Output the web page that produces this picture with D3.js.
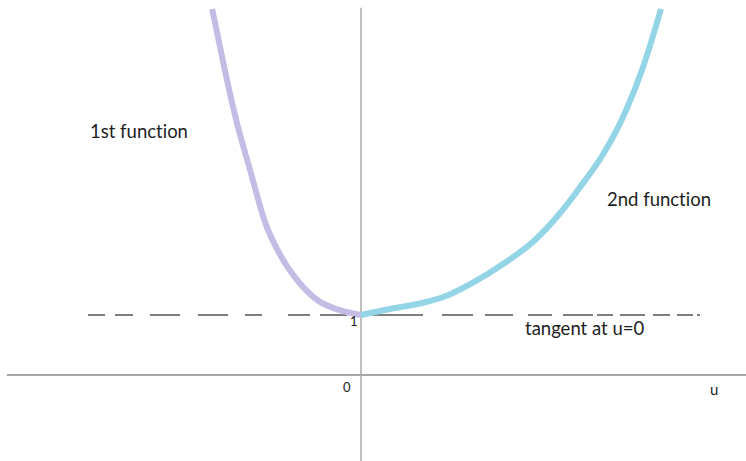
<!DOCTYPE html>
<html>
<head>
<meta charset="utf-8">
<script src="https://cdn.jsdelivr.net/npm/d3@7"></script>
<style>
  html, body { margin: 0; padding: 0; background: #fff; }
  svg { display: block; }
  text { font-family: Lato, "Open Sans", sans-serif; fill: #1e1e1e; font-variant-ligatures: none; font-feature-settings: "liga" 0, "clig" 0; }
</style>
</head>
<body>
<svg id="chart" width="746" height="461"></svg>
<script>
// ---- data (u, value) ----
const firstU   = [-2.48, -2.28, -2.08, -1.85, -1.60, -1.30, -1.02, -0.73, -0.35, 0];
const firstV   = [ 6.10,  5.13,  4.25,  3.42,  2.55,  1.92,  1.53,  1.25,  1.08, 1.0];
const secondU  = [0, 0.48, 1.02, 1.45, 1.85, 2.40, 2.90, 3.32, 3.65, 4.03, 4.40, 4.70, 5.00];
const secondV  = [1.0, 1.10, 1.20, 1.33, 1.53, 1.87, 2.25, 2.70, 3.13, 3.67, 4.37, 5.13, 6.10];
const tangentU = [-4.55, 5.67];
const tangentV = 1;
const xAxisU   = [-5.9, 6.42];
const yAxisV   = [6.12, -1.45];
const tickLabels = ["0", "1"];
const axisName = "u";
const labels = ["1st function", "2nd function", "tangent at u=0"];

const W = 746, H = 461;
const svg = d3.select("#chart");
const x = d3.scaleLinear().domain([-361/60, 385/60]).range([0, W]);
const y = d3.scaleLinear().domain([375/60, -86/60]).range([0, H]);

// axes
svg.append("line")
  .attr("x1", x(xAxisU[0])).attr("x2", x(xAxisU[1]))
  .attr("y1", y(0)).attr("y2", y(0))
  .attr("stroke", "#8a8a8a").attr("stroke-width", 1.5);
svg.append("line")
  .attr("x1", x(0)).attr("x2", x(0))
  .attr("y1", y(yAxisV[0])).attr("y2", y(yAxisV[1]))
  .attr("stroke", "#aaaaaa").attr("stroke-width", 1.5);

// tangent dashed line
svg.append("line")
  .attr("x1", x(tangentU[0])).attr("x2", x(tangentU[1]))
  .attr("y1", y(tangentV)).attr("y2", y(tangentV))
  .attr("stroke", "#555").attr("stroke-width", 1.4)
  .attr("stroke-dasharray", "17 10 18 17 30 18 30 17 17 26 22 10 27 26 50 19 31 12 28 15 24 11 30 4 16 7 25 8 17 7 16 4 3");

const line = d3.line().x(d => x(d[0])).y(d => y(d[1])).curve(d3.curveMonotoneX);

svg.append("path")
  .datum(firstU.map((u, i) => [u, firstV[i]]))
  .attr("d", line)
  .attr("fill", "none").attr("stroke", "#c4bce4").attr("stroke-width", 6);

svg.append("path")
  .datum(secondU.map((u, i) => [u, secondV[i]]))
  .attr("d", line)
  .attr("fill", "none").attr("stroke", "#93d4e6").attr("stroke-width", 6);

// labels
svg.append("text").attr("x", x(0) - 18).attr("y", y(0) + 17).attr("font-size", 13).text(tickLabels[0]);
svg.append("text").attr("x", x(0) - 11).attr("y", y(1) + 11).attr("font-size", 13).text(tickLabels[1]);
svg.append("text").attr("x", 710).attr("y", 395).attr("font-size", 15).text(axisName);

svg.append("text").attr("x", 90).attr("y", 138).attr("font-size", 18.5).text(labels[0]);
svg.append("text").attr("x", 607).attr("y", 206).attr("font-size", 18.5).text(labels[1]);
svg.append("text").attr("x", 525).attr("y", 335).attr("font-size", 18.5).text(labels[2]);
</script>
</body>
</html>
